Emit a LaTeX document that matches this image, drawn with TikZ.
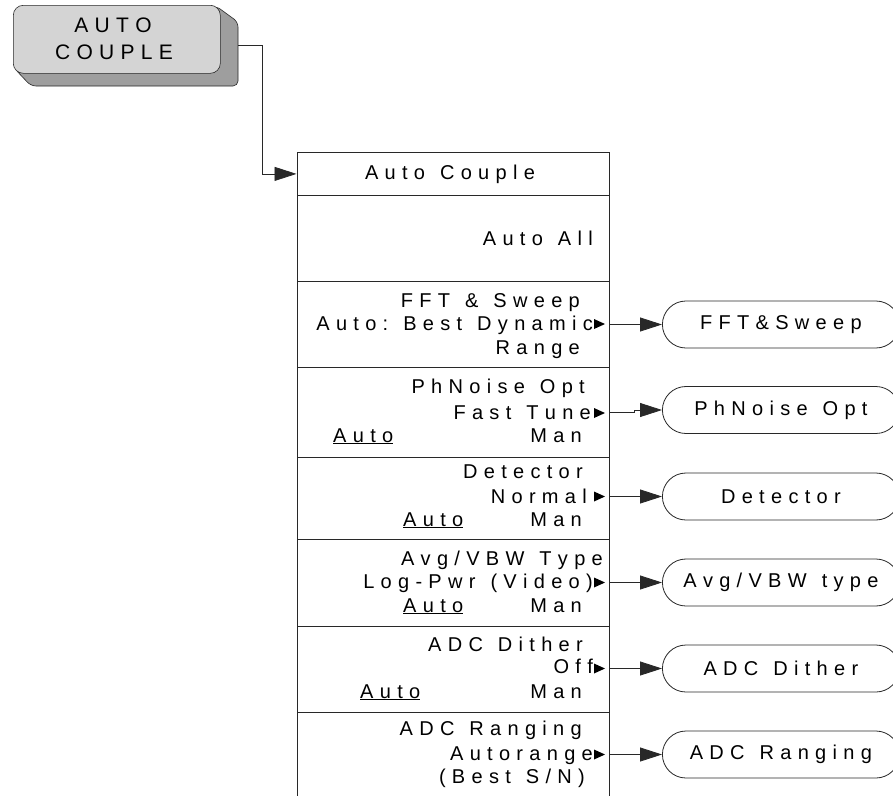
\documentclass[tikz,border=0pt]{standalone}
\usepackage{fontspec}
\setmainfont{Liberation Sans}
\usetikzlibrary{arrows.meta}
\ExplSyntaxOn
\seq_new:N \l_mytrk_seq
\bool_new:N \l_mytrk_firstword_bool
\bool_new:N \l_mytrk_firstchar_bool
\NewDocumentCommand\trk{O{0.315em}m}{
  \group_begin:
  \seq_set_split:Nnn \l_mytrk_seq {~} {#2}
  \bool_set_true:N \l_mytrk_firstword_bool
  \seq_map_inline:Nn \l_mytrk_seq {
    \bool_if:NF \l_mytrk_firstword_bool { \kern 0.75em\relax }
    \bool_set_false:N \l_mytrk_firstword_bool
    \bool_set_true:N \l_mytrk_firstchar_bool
    \tl_map_inline:nn {##1} {
      \bool_if:NF \l_mytrk_firstchar_bool { \kern #1\relax }
      \bool_set_false:N \l_mytrk_firstchar_bool
      ####1
    }
  }
  \group_end:
}
\ExplSyntaxOff
\definecolor{btnfront}{RGB}{212,212,212}
\definecolor{btnside}{RGB}{158,158,158}
\definecolor{edge}{RGB}{40,40,40}
\tikzset{
  menurow/.style={draw=edge, line width=0.8pt, minimum width=312.5pt, inner sep=0pt, anchor=north west},
  mfont/.style={font=\fontsize{20pt}{24pt}\selectfont},
  mtxt/.style={mfont, inner sep=0pt, anchor=base east},
  mtxtl/.style={mfont, inner sep=0pt, anchor=base west},
  mtxtc/.style={mfont, inner sep=0pt, anchor=base},
  oval/.style={draw=edge, line width=0.8pt, rounded corners=23.5pt, minimum width=237pt, minimum height=47pt, inner sep=0pt, anchor=west, mfont},
  arr/.style={draw=edge, line width=0.8pt, -{Triangle[length=22pt,width=14pt]}},
  trimark/.pic={\fill[black] (-11,-5) -- (0,0) -- (-11,5) -- cycle;}
}
\begin{document}
\begin{tikzpicture}[x=1pt,y=-1pt]
\useasboundingbox (0,0) rectangle (893,795);
\clip (0,0) rectangle (893,795);
\fill[white] (0,0) rectangle (893,795);

% button
\filldraw[fill=btnside, draw=edge, line width=0.6pt, rounded corners=5pt] (216,6) -- (238,22) -- (238,86) -- (31,86) -- (14,68) -- cycle;
\node[draw=edge, line width=0.6pt, fill=btnfront, rounded corners=10pt, minimum width=207pt, minimum height=68pt, anchor=north west, inner sep=0pt] (btn) at (13,5) {};
\node[inner sep=0pt, anchor=base, font=\fontsize{21pt}{25pt}\selectfont] (btnt1) at (113,32) {\trk[0.3em]{AUTO}};
\node[inner sep=0pt, anchor=base, font=\fontsize{21pt}{25pt}\selectfont] (btnt2) at (114,59) {\trk[0.3em]{COUPLE}};
\coordinate (btnR) at (238,45.5);

% menu rows
\node[menurow, minimum height=43pt] (hdr) at (296.5,152) {};
\node[menurow, minimum height=86pt] (all) at (296.5,195) {};
\node[menurow, minimum height=86pt] (fft) at (296.5,281) {};
\node[menurow, minimum height=90pt] (phn) at (296.5,367) {};
\node[menurow, minimum height=82pt] (det) at (296.5,457) {};
\node[menurow, minimum height=87pt] (avg) at (296.5,539) {};
\node[menurow, minimum height=86pt] (dith) at (296.5,626) {};
\node[menurow, minimum height=85pt] (rng) at (296.5,712) {};

% texts
\node[mtxtc] (thdr) at (450,179) {\trk{Auto Couple}};
\node[mtxt] (tall) at (593,245) {\trk{Auto All}};

\node[mtxt] (tfft1) at (580,307) {\trk{FFT \& Sweep}};
\node[mtxt] (tfft2) at (593,330) {\trk{Auto: Best Dynamic}};
\node[mtxt] (tfft3) at (580,354) {\trk{Range}};
\pic at (605,324) {trimark};

\node[mtxt] (tphn1) at (585,393) {\trk{PhNoise Opt}};
\node[mtxt] (tphn2) at (591,419) {\trk{Fast Tune}};
\node[mtxtl] (tphn3) at (333,442) {\underline{\trk{Auto}}};
\node[mtxt] (tphn4) at (582,442) {\trk{Man}};
\pic at (605,413) {trimark};

\node[mtxt] (tdet1) at (583,478) {\trk{Detector}};
\node[mtxt] (tdet2) at (587,503) {\trk{Normal}};
\node[mtxtl] (tdet3) at (403,526) {\underline{\trk{Auto}}};
\node[mtxt] (tdet4) at (582,526) {\trk{Man}};
\pic at (605,496.5) {trimark};

\node[mtxt] (tavg1) at (603,565) {\trk{Avg/VBW Type}};
\node[mtxt] (tavg2) at (593,588) {\trk{Log-Pwr (Video)}};
\node[mtxtl] (tavg3) at (403,612) {\underline{\trk{Auto}}};
\node[mtxt] (tavg4) at (582,612) {\trk{Man}};
\pic at (605,582.5) {trimark};

\node[mtxt] (tdit1) at (583,651) {\trk{ADC Dither}};
\node[mtxt] (tdit2) at (593,673) {\trk{Off}};
\node[mtxtl] (tdit3) at (360,698) {\underline{\trk{Auto}}};
\node[mtxt] (tdit4) at (582,698) {\trk{Man}};
\pic at (605,668.5) {trimark};

\node[mtxt] (trng1) at (582,735) {\trk{ADC Ranging}};
\node[mtxt] (trng2) at (593,760) {\trk{Autorange}};
\node[mtxt] (trng3) at (585,783) {\trk{(Best S/N)}};
\pic at (605,754.5) {trimark};

% ovals
\node[oval] (offt) at (662,324.5) {\trk{FFT\&Sweep}};
\node[oval] (ophn) at (662,410) {\trk{PhNoise Opt}};
\node[oval] (odet) at (662,496.5) {\trk{Detector}};
\node[oval] (oavg) at (662,582.5) {\trk{Avg/VBW type}};
\node[oval] (odit) at (662,668.5) {\trk{ADC Dither}};
\node[oval] (orng) at (662,754.5) {\trk{ADC Ranging}};

% connectors
\draw[arr] (btnR) -- ++(24,0) |- (hdr.west);
\draw[arr] (offt.west -| fft.east) -- (offt.west);
\draw[arr] (phn.east) -- ++(25,0) |- (ophn.west);
\draw[arr] (odet.west -| det.east) -- (odet.west);
\draw[arr] (oavg.west -| avg.east) -- (oavg.west);
\draw[arr] (odit.west -| dith.east) -- (odit.west);
\draw[arr] (orng.west -| rng.east) -- (orng.west);
\end{tikzpicture}
\end{document}
